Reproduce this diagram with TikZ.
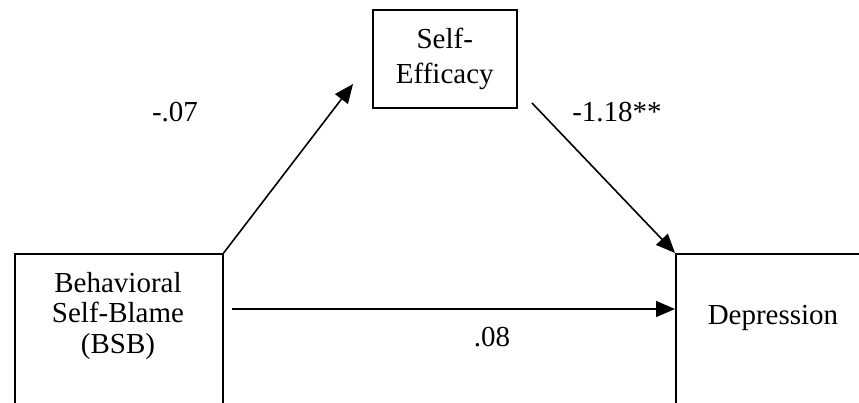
\documentclass[tikz,border=0pt]{standalone}
\usepackage{fontspec}
\setmainfont{Liberation Serif}
\usetikzlibrary{arrows.meta}
\begin{document}
\begin{tikzpicture}[x=1pt,y=-1pt,
  box/.style={draw, line width=1.6pt, inner sep=0pt, align=center, font=\fontsize{29}{35}\selectfont},
  txt/.style={align=center, font=\fontsize{29}{30.5}\selectfont, inner sep=0pt},
  arr/.style={-{Triangle[length=19pt,width=16pt]}, line width=1.6pt}]
\useasboundingbox (0,0) rectangle (859,402);
\clip (0,0) rectangle (859,402);
\fill[white] (0,0) rectangle (859,402);
\node[box, minimum width=144pt, minimum height=98pt, anchor=north west] (se) at (372,9) {Self-\\Efficacy};
\node[box, minimum width=208pt, minimum height=200pt, anchor=north west] (bsb) at (14,253) {};
\node[txt] (bsbt) at (118,316) {Behavioral\\Self-Blame\\(BSB)};
\node[box, minimum width=220pt, minimum height=200pt, anchor=north west] (dep) at (675,253) {};
\node[txt] (dept) at (773,318) {Depression};
\coordinate (a1e) at (353,84);
\coordinate (a2s) at (532,103);
\coordinate (a3s) at (232,309);
\coordinate (a3e) at (675,309);
\draw[arr] (bsb.north east) -- (a1e);
\draw[arr] (a2s) -- (dep.north west);
\draw[arr] (a3s) -- (a3e);
\node[txt] (l1) at (175,112) {-.07};
\node[txt] (l2) at (617,112) {-1.18**};
\node[txt] (l3) at (492,337) {.08};
\end{tikzpicture}
\end{document}
